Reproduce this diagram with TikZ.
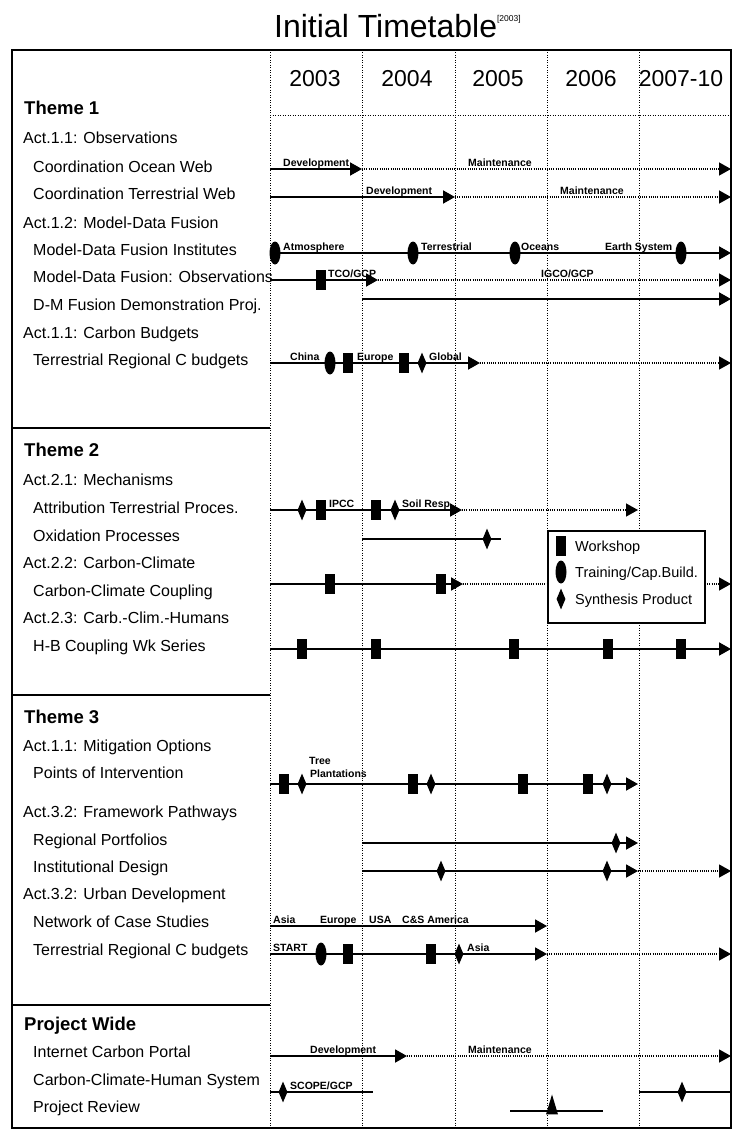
\documentclass[tikz,border=0pt]{standalone}
\usepackage{fontspec}
\setmainfont{Liberation Sans}
\usetikzlibrary{arrows.meta,shapes.geometric}

\begin{document}
\begin{tikzpicture}
        [x=1pt, y=-1pt,
        rowtext/.style={anchor=west, inner sep=0pt, font=\fontsize{16}{18}\selectfont, text height=11.5pt, text depth=0pt},
        themetext/.style={anchor=west, inner sep=0pt, font=\bfseries\fontsize{18.5}{20}\selectfont, text height=13.3pt, text depth=0pt},
        yeartext/.style={inner sep=0pt, font=\fontsize{23}{26}\selectfont, text height=16.5pt, text depth=0pt},
        tagtext/.style={anchor=base west, inner sep=0pt, font=\bfseries\fontsize{10.5}{11}\selectfont},
        keytext/.style={anchor=west, inner sep=0pt, font=\fontsize{14.5}{16}\selectfont, text height=10.4pt, text depth=0pt},
        boxline/.style={black, line width=1.8pt},
        colline/.style={black, line width=0.9pt, dash pattern=on 1pt off 1.5pt},
        run/.style={black, line width=1.9pt},
        later/.style={black, line width=1.3pt, dash pattern=on 1pt off 1.2pt},
        arr/.style={-{Triangle[length=12pt, width=13pt]}},
        wshop/.style={rectangle, fill=black, minimum width=10pt, minimum height=20pt, inner sep=0pt},
        train/.style={ellipse, fill=black, minimum width=11pt, minimum height=23pt, inner sep=0pt},
        synth/.style={diamond, fill=black, minimum width=9pt, minimum height=21pt, inner sep=0pt},
        review/.style={isosceles triangle, isosceles triangle stretches, shape border rotate=90, fill=black, minimum width=12pt, minimum height=20pt, inner sep=0pt}]

        \useasboundingbox (0,0) rectangle (750,1145);

        \node[anchor=west, inner sep=0pt, font=\fontsize{32}{34}\selectfont, text height=22.9pt, text depth=0pt] (title) at (274,26) {Initial Timetable\raisebox{16pt}{\fontsize{8.5}{9}\selectfont[2003]}};

        % table frame and grid
        \draw[colline] (270,50) -- (270,1128);
        \draw[colline] (362,50) -- (362,1128);
        \draw[colline] (455,50) -- (455,1128);
        \draw[colline] (547,50) -- (547,1128);
        \draw[colline] (639,50) -- (639,1128);
        \draw[colline] (270,115) -- (731,115);
        \draw[boxline] (12,50) rectangle (731,1128);
        \draw[boxline] (12,428) -- (270,428);
        \draw[boxline] (12,695) -- (270,695);
        \draw[boxline] (12,1005) -- (270,1005);

        \node[yeartext] (y03) at (315,78) {2003};
        \node[yeartext] (y04) at (407,78) {2004};
        \node[yeartext] (y05) at (498,78) {2005};
        \node[yeartext] (y06) at (591,78) {2006};
        \node[yeartext] (y07) at (681,78) {2007-10};

        % left column
        \node[themetext] (th1) at (24,108) {Theme 1};
        \node[rowtext] (a11) at (23,138) {Act.1.1: Observations};
        \node[rowtext] (ocn) at (33,167) {Coordination Ocean Web};
        \node[rowtext] (ter) at (33,194) {Coordination Terrestrial Web};
        \node[rowtext] (a12) at (23,223) {Act.1.2: Model-Data Fusion};
        \node[rowtext] (mdi) at (33,250) {Model-Data Fusion Institutes};
        \node[rowtext] (mdo) at (33,277) {Model-Data Fusion: Observations};
        \node[rowtext] (dmf) at (33,305) {D-M Fusion Demonstration Proj.};
        \node[rowtext] (a13) at (23,333) {Act.1.1: Carbon Budgets};
        \node[rowtext] (tcb) at (33,360) {Terrestrial Regional C budgets};

        \node[themetext] (th2) at (24,450) {Theme 2};
        \node[rowtext] (a21) at (23,480) {Act.2.1: Mechanisms};
        \node[rowtext] (att) at (33,508) {Attribution Terrestrial Proces.};
        \node[rowtext] (oxi) at (33,536) {Oxidation Processes};
        \node[rowtext] (a22) at (23,563) {Act.2.2: Carbon-Climate};
        \node[rowtext] (ccc) at (33,591) {Carbon-Climate Coupling};
        \node[rowtext] (a23) at (23,618) {Act.2.3: Carb.-Clim.-Humans};
        \node[rowtext] (hbc) at (33,646) {H-B Coupling Wk Series};

        \node[themetext] (th3) at (24,717) {Theme 3};
        \node[rowtext] (a31) at (23,746) {Act.1.1: Mitigation Options};
        \node[rowtext] (poi) at (33,773) {Points of Intervention};
        \node[rowtext] (a32) at (23,812) {Act.3.2: Framework Pathways};
        \node[rowtext] (rpf) at (33,840) {Regional Portfolios};
        \node[rowtext] (ins) at (33,867) {Institutional Design};
        \node[rowtext] (a33) at (23,894) {Act.3.2: Urban Development};
        \node[rowtext] (ncs) at (33,922) {Network of Case Studies};
        \node[rowtext] (tcc) at (33,950) {Terrestrial Regional C budgets};

        \node[themetext] (thp) at (24,1024) {Project Wide};
        \node[rowtext] (icp) at (33,1052) {Internet Carbon Portal};
        \node[rowtext] (cch) at (33,1080) {Carbon-Climate-Human System};
        \node[rowtext] (prv) at (33,1107) {Project Review};

        % theme 1 timelines
        \coordinate (ocn0) at (270,169);
        \coordinate (ocn1) at (362,169);
        \coordinate (ocn2) at (731,169);
        \draw[run, arr] (ocn0) -- (ocn1);
        \draw[later, arr] (ocn1) -- (ocn2);
        \node[tagtext] (ocnDev) at (283,166.5) {Development};
        \node[tagtext] (ocnMnt) at (468,166.5) {Maintenance};

        \coordinate (ter0) at (270,197);
        \coordinate (ter1) at (455,197);
        \coordinate (ter2) at (731,197);
        \draw[run, arr] (ter0) -- (ter1);
        \draw[later, arr] (ter1) -- (ter2);
        \node[tagtext] (terDev) at (366,194.5) {Development};
        \node[tagtext] (terMnt) at (560,194.5) {Maintenance};

        \coordinate (mdi0) at (270,253);
        \coordinate (mdi1) at (731,253);
        \draw[run, arr] (mdi0) -- (mdi1);
        \node[train] (mdiA) at (275,253) {};
        \node[train] (mdiT) at (413,253) {};
        \node[train] (mdiO) at (515,253) {};
        \node[train] (mdiE) at (681,253) {};
        \node[tagtext] (mdiAtm) at (283,250.5) {Atmosphere};
        \node[tagtext] (mdiTer) at (421,250.5) {Terrestrial};
        \node[tagtext] (mdiOce) at (521,250.5) {Oceans};
        \node[tagtext] (mdiEar) at (605,250.5) {Earth System};

        \coordinate (mdo0) at (270,280);
        \coordinate (mdo1) at (378,280);
        \coordinate (mdo2) at (731,280);
        \draw[run, arr] (mdo0) -- (mdo1);
        \draw[later, arr] (mdo1) -- (mdo2);
        \node[wshop] (mdoW) at (321,280) {};
        \node[tagtext] (mdoTco) at (328,277.5) {TCO/GCP};
        \node[tagtext] (mdoIgc) at (541,277.5) {IGCO/GCP};

        \coordinate (dmf0) at (362,299);
        \coordinate (dmf1) at (731,299);
        \draw[run, arr] (dmf0) -- (dmf1);

        \coordinate (tcb0) at (270,363);
        \coordinate (tcb1) at (480,363);
        \coordinate (tcb2) at (731,363);
        \draw[run, arr] (tcb0) -- (tcb1);
        \draw[later, arr] (tcb1) -- (tcb2);
        \node[train] (tcbT) at (330,363) {};
        \node[wshop] (tcbW1) at (348,363) {};
        \node[wshop] (tcbW2) at (404,363) {};
        \node[synth] (tcbS) at (422,363) {};
        \node[tagtext] (tcbChi) at (290,360.5) {China};
        \node[tagtext] (tcbEur) at (357,360.5) {Europe};
        \node[tagtext] (tcbGlo) at (429,360.5) {Global};

        % theme 2 timelines
        \coordinate (att0) at (270,510);
        \coordinate (att1) at (462,510);
        \coordinate (att2) at (638,510);
        \draw[run, arr] (att0) -- (att1);
        \draw[later, arr] (att1) -- (att2);
        \node[synth] (attS1) at (302,510) {};
        \node[wshop] (attW1) at (321,510) {};
        \node[wshop] (attW2) at (376,510) {};
        \node[synth] (attS2) at (395,510) {};
        \node[tagtext] (attIpc) at (329,507.5) {IPCC};
        \node[tagtext] (attSoi) at (402,507.5) {Soil Resp.};

        \coordinate (oxi0) at (362,539);
        \coordinate (oxi1) at (501,539);
        \draw[run] (oxi0) -- (oxi1);
        \node[synth] (oxiS) at (487,539) {};

        \coordinate (ccc0) at (270,584);
        \coordinate (ccc1) at (463,584);
        \coordinate (ccc2) at (731,584);
        \draw[run, arr] (ccc0) -- (ccc1);
        \draw[later, arr] (ccc1) -- (ccc2);
        \node[wshop] (cccW1) at (330,584) {};
        \node[wshop] (cccW2) at (441,584) {};

        \coordinate (hbc0) at (270,649);
        \coordinate (hbc1) at (731,649);
        \draw[run, arr] (hbc0) -- (hbc1);
        \node[wshop] (hbcW1) at (302,649) {};
        \node[wshop] (hbcW2) at (376,649) {};
        \node[wshop] (hbcW3) at (514,649) {};
        \node[wshop] (hbcW4) at (608,649) {};
        \node[wshop] (hbcW5) at (681,649) {};

        % theme 3 timelines
        \coordinate (poi0) at (270,784);
        \coordinate (poi1) at (638,784);
        \draw[run, arr] (poi0) -- (poi1);
        \node[wshop] (poiW1) at (284,784) {};
        \node[synth] (poiS1) at (302,784) {};
        \node[wshop] (poiW2) at (413,784) {};
        \node[synth] (poiS2) at (431,784) {};
        \node[wshop] (poiW3) at (523,784) {};
        \node[wshop] (poiW4) at (588,784) {};
        \node[synth] (poiS3) at (607,784) {};
        \node[tagtext] (poiTre) at (309,764) {Tree};
        \node[tagtext] (poiPla) at (310,777) {Plantations};

        \coordinate (rpf0) at (362,843);
        \coordinate (rpf1) at (638,843);
        \draw[run, arr] (rpf0) -- (rpf1);
        \node[synth] (rpfS) at (616,843) {};

        \coordinate (ins0) at (362,871);
        \coordinate (ins1) at (638,871);
        \coordinate (ins2) at (731,871);
        \draw[run, arr] (ins0) -- (ins1);
        \draw[later, arr] (ins1) -- (ins2);
        \node[synth] (insS1) at (441,871) {};
        \node[synth] (insS2) at (607,871) {};

        \coordinate (ncs0) at (270,926);
        \coordinate (ncs1) at (547,926);
        \draw[run, arr] (ncs0) -- (ncs1);
        \node[tagtext] (ncsAsi) at (273,923.5) {Asia};
        \node[tagtext] (ncsEur) at (320,923.5) {Europe};
        \node[tagtext] (ncsUsa) at (369,923.5) {USA};
        \node[tagtext] (ncsCsa) at (402,923.5) {C\&S America};

        \coordinate (tcc0) at (270,954);
        \coordinate (tcc1) at (547,954);
        \coordinate (tcc2) at (731,954);
        \draw[run, arr] (tcc0) -- (tcc1);
        \draw[later, arr] (tcc1) -- (tcc2);
        \node[train] (tccT) at (321,954) {};
        \node[wshop] (tccW1) at (348,954) {};
        \node[wshop] (tccW2) at (431,954) {};
        \node[synth] (tccS) at (459,954) {};
        \node[tagtext] (tccSta) at (273,951.5) {START};
        \node[tagtext] (tccAsi) at (467,951.5) {Asia};

        % project wide timelines
        \coordinate (icp0) at (270,1056);
        \coordinate (icp1) at (407,1056);
        \coordinate (icp2) at (731,1056);
        \draw[run, arr] (icp0) -- (icp1);
        \draw[later, arr] (icp1) -- (icp2);
        \node[tagtext] (icpDev) at (310,1053.5) {Development};
        \node[tagtext] (icpMnt) at (468,1053.5) {Maintenance};

        \coordinate (cch0) at (270,1092);
        \coordinate (cch1) at (373,1092);
        \coordinate (cch2) at (639,1092);
        \coordinate (cch3) at (731,1092);
        \draw[run] (cch0) -- (cch1);
        \draw[run] (cch2) -- (cch3);
        \node[synth] (cchS1) at (283,1092) {};
        \node[synth] (cchS2) at (682,1092) {};
        \node[tagtext] (cchSco) at (290,1089.5) {SCOPE/GCP};

        \coordinate (prv0) at (510,1111);
        \coordinate (prv1) at (603,1111);
        \draw[run] (prv0) -- (prv1);
        \node[review] (prvR) at (552,1110) {};

        % legend
        \node[draw, boxline, fill=white, anchor=north west, minimum width=157pt, minimum height=92pt, inner sep=0pt] (legend) at (547,530) {};
        \node[wshop] (keyW) at (561,546) {};
        \node[train] (keyT) at (561,572) {};
        \node[synth] (keyS) at (561,599) {};
        \node[keytext] (keyWt) at (575,546) {Workshop};
        \node[keytext] (keyTt) at (575,572) {Training/Cap.Build.};
        \node[keytext] (keySt) at (575,599) {Synthesis Product};

    \end{tikzpicture}
\end{document}
